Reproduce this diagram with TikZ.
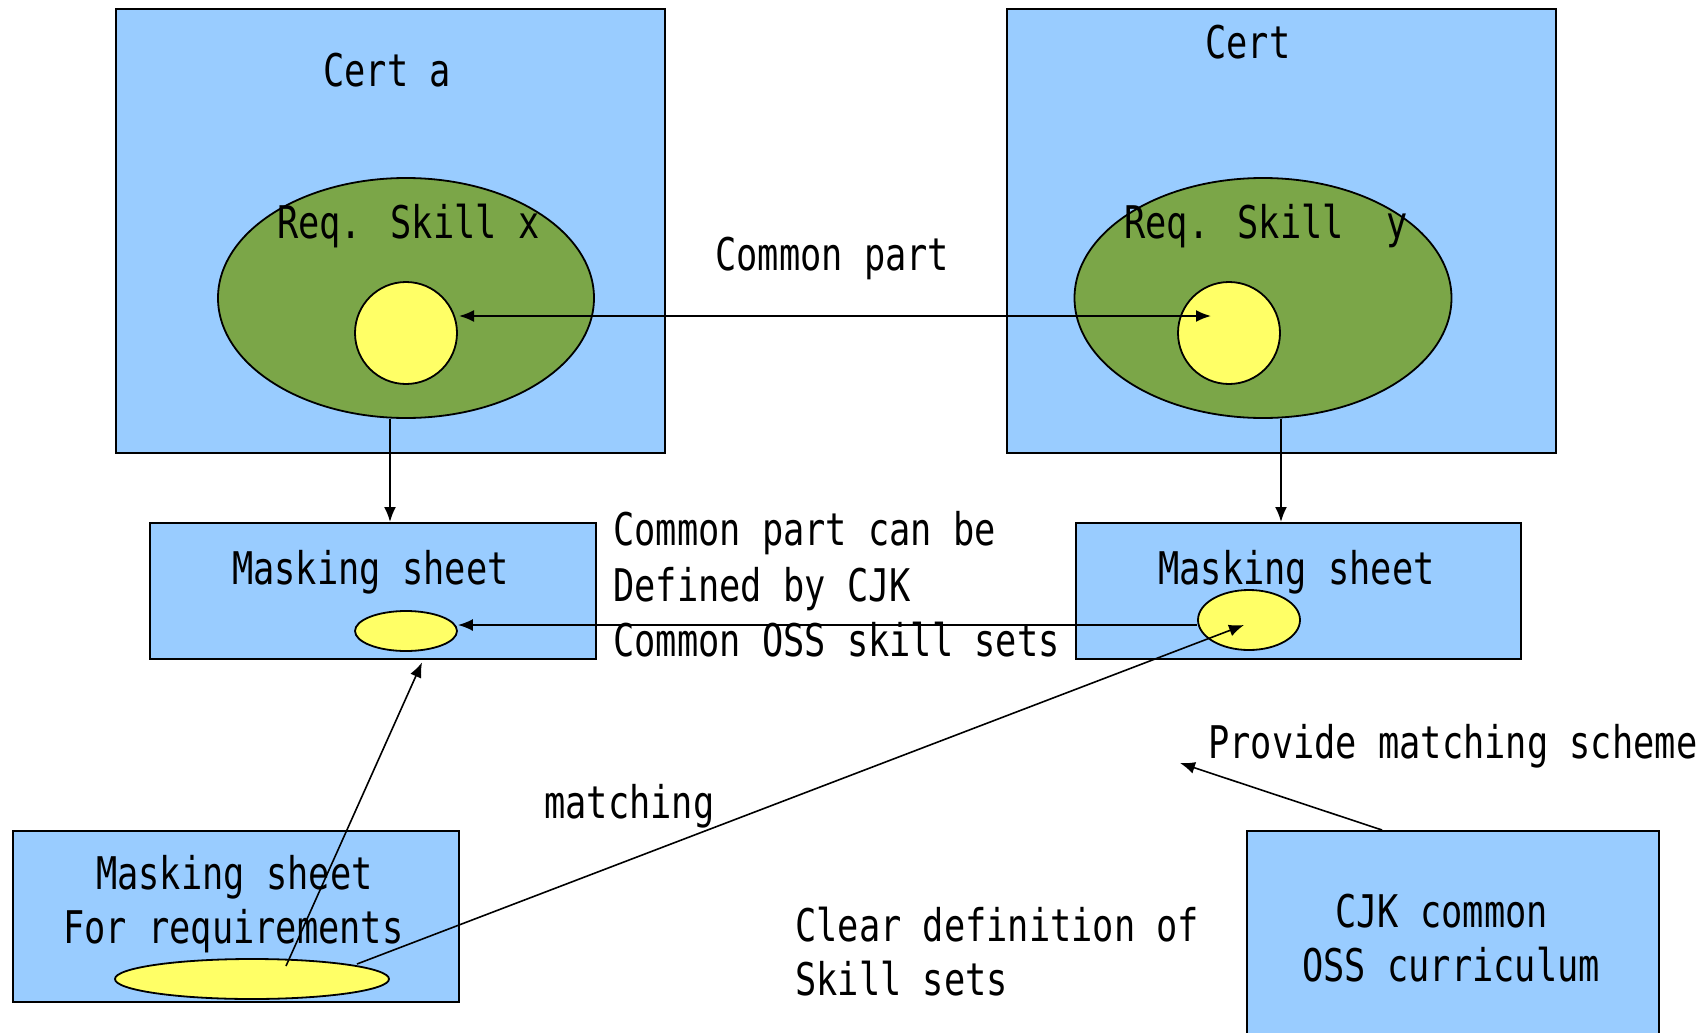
\documentclass[tikz,border=0pt]{standalone}
\usepackage{fontspec}
\newfontfamily\labelfont[FakeStretch=0.785]{DejaVu Sans Mono}
\usetikzlibrary{shapes.geometric,arrows.meta,calc}
\definecolor{skyfill}{HTML}{99CCFF}
\definecolor{grassfill}{HTML}{7BA648}
\definecolor{lemonfill}{HTML}{FFFF66}
\begin{document}
\begin{tikzpicture}[x=1pt,y=-1pt,
  panel/.style={rectangle,draw=black,line width=2.4pt,fill=skyfill,inner sep=0pt,anchor=north west},
  blob/.style={ellipse,draw=black,line width=1.8pt,inner sep=0pt},
  txt/.style={font=\labelfont\fontsize{45pt}{55pt}\selectfont,inner sep=0pt,anchor=base west},
  conn/.style={draw=black,line width=1.9pt,-{Latex[length=15pt,width=12pt]}},
  thinconn/.style={conn,line width=1.6pt}]
\useasboundingbox (0,0) rectangle (1706,1033);
\clip (0,0) rectangle (1706,1033);

% certificate panels
\node[panel,minimum width=549pt,minimum height=444pt] (certA) at (115,8) {};
\node[panel,minimum width=549pt,minimum height=444pt] (certB) at (1006,8) {};

% required skill sets and their common part
\node[blob,fill=grassfill,minimum width=376pt,minimum height=240pt] (skillX) at (406,298) {};
\node[blob,fill=grassfill,minimum width=377pt,minimum height=240pt] (skillY) at (1263,298) {};
\node[blob,fill=lemonfill,minimum width=102pt,minimum height=102pt] (commonX) at (406,333) {};
\node[blob,fill=lemonfill,minimum width=102pt,minimum height=102pt] (commonY) at (1229,333) {};

% masking sheets
\node[panel,minimum width=446pt,minimum height=136pt] (maskL) at (149,522) {};
\node[panel,minimum width=445pt,minimum height=136pt] (maskR) at (1075,522) {};
\node[blob,fill=lemonfill,minimum width=102pt,minimum height=40pt] (maskDotL) at (406,631) {};
\node[blob,fill=lemonfill,minimum width=102pt,minimum height=60pt] (maskDotR) at (1249,620) {};

% requirement sheet and curriculum
\node[panel,minimum width=446pt,minimum height=171pt] (reqBox) at (12,830) {};
\node[blob,fill=lemonfill,minimum width=274pt,minimum height=40pt] (reqDot) at (252,979) {};
\node[panel,minimum width=412pt,minimum height=240pt] (cjk) at (1246,830) {};

% texts
\node[txt] (tCertA) at (323,86) {Cert a};
\node[txt] (tCertB) at (1205,59) {Cert};
\node[txt] (tSkillX) at (277,238) {Req. Skill x};
\node[txt] (tSkillY) at (1124,238) {Req. Skill\ \ y};
\node[txt] (tCommon) at (715,270) {Common part};
\node[txt] (tMaskL) at (232,584) {Masking sheet};
\node[txt] (tMaskR) at (1158,584) {Masking sheet};
\node[txt] (tDef1) at (613,545) {Common part can be};
\node[txt] (tDef2) at (613,601) {Defined by CJK};
\node[txt] (tDef3) at (613,656) {Common OSS skill sets};
\node[txt] (tReq1) at (96,889) {Masking sheet};
\node[txt] (tReq2) at (63,943) {For requirements};
\node[txt] (tMatch) at (544,818) {matching};
\node[txt] (tScheme) at (1208,758) {Provide matching scheme};
\node[txt] (tClear1) at (795,941) {Clear definition of};
\node[txt] (tClear2) at (795,995) {Skill sets};
\node[txt] (tCjk1) at (1335,927) {CJK common};
\node[txt] (tCjk2) at (1302,981) {OSS curriculum};

% connectors
\draw[conn,{Latex[length=15pt,width=12pt]}-{Latex[length=15pt,width=12pt]}]
  ($(commonX.center)+(53,-17)$) -- ($(commonY.center)+(-18,-17)$);
\coordinate (dropL) at ($(skillX.south)+(-16,0)$);
\coordinate (dropR) at ($(skillY.south)+(18,0)$);
\draw[conn] (dropL) -- (dropL |- maskL.north);
\draw[conn] (dropR) -- (dropR |- maskR.north);
\coordinate (linkR) at ($(maskDotR.center)+(-52,5)$);
\draw[conn] (linkR) -- (linkR -| maskDotL.east);
\draw[thinconn] ($(reqDot.center)+(34,-13)$) -- ($(maskL.south west)+(273,2)$);
\draw[thinconn] ($(reqDot.center)+(105,-15)$) -- ($(maskDotR.center)+(-5,5)$);
\coordinate (schemeTip) at (1180,763);
\draw[thinconn] ($(cjk.north west)+(136,0)$) -- (schemeTip);
\end{tikzpicture}
\end{document}
